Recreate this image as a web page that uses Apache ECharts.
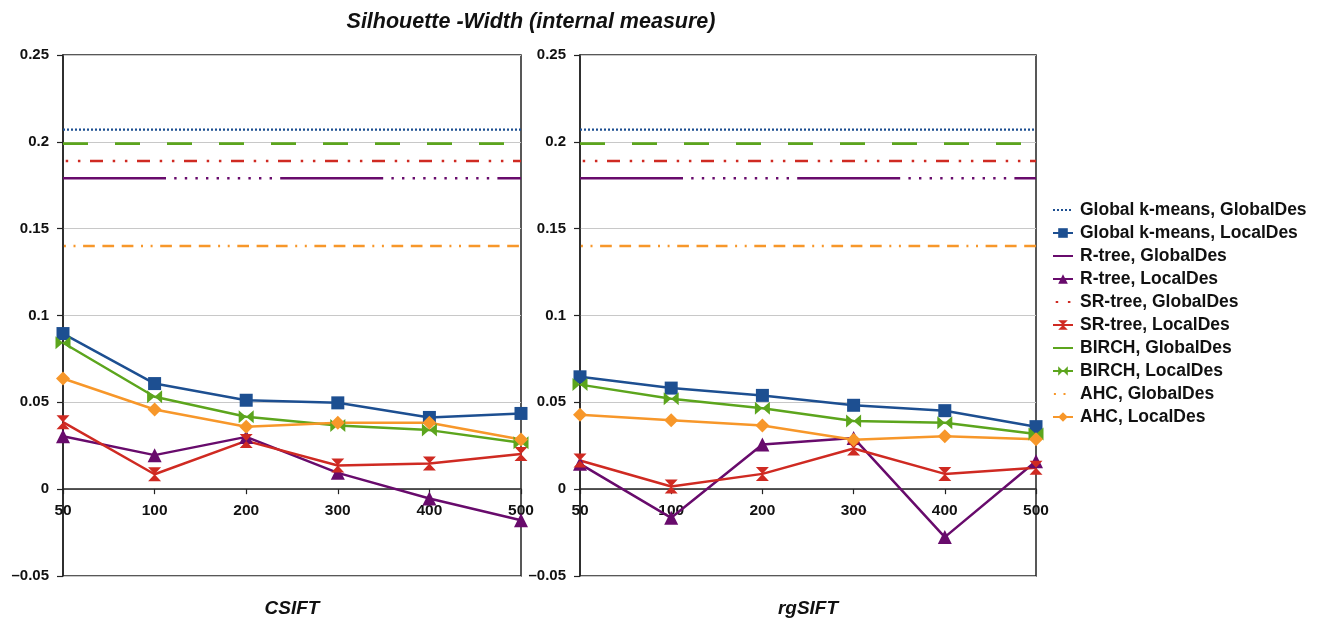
<!DOCTYPE html>
<html><head><meta charset="utf-8">
<script src="https://cdn.jsdelivr.net/npm/echarts@6/dist/echarts.min.js"></script>
<style>html,body{margin:0;padding:0;background:#fff}#c{width:1320px;height:621px}</style>
</head><body><div id="c"></div><script>
// ---------- data ----------
const categories = ['50', '100', '200', '300', '400', '500'];
const seriesNames = [
  'Global k-means, GlobalDes', 'Global k-means, LocalDes',
  'R-tree, GlobalDes', 'R-tree, LocalDes',
  'SR-tree, GlobalDes', 'SR-tree, LocalDes',
  'BIRCH, GlobalDes', 'BIRCH, LocalDes',
  'AHC, GlobalDes', 'AHC, LocalDes'
];
const panelNames = ['CSIFT', 'rgSIFT'];
const yMin = -0.05, yMax = 0.25, yStep = 0.05;

// CSIFT
const csiftKmeansGlobal = [0.207, 0.207, 0.207, 0.207, 0.207, 0.207];
const csiftKmeansLocal  = [0.0896, 0.0608, 0.0512, 0.0497, 0.0413, 0.0436];
const csiftRtreeGlobal  = [0.179, 0.179, 0.179, 0.179, 0.179, 0.179];
const csiftRtreeLocal   = [0.0305, 0.0196, 0.0301, 0.0094, -0.0054, -0.0179];
const csiftSrtreeGlobal = [0.189, 0.189, 0.189, 0.189, 0.189, 0.189];
const csiftSrtreeLocal  = [0.0386, 0.0086, 0.0278, 0.0136, 0.0148, 0.0202];
const csiftBirchGlobal  = [0.199, 0.199, 0.199, 0.199, 0.199, 0.199];
const csiftBirchLocal   = [0.0843, 0.0532, 0.0417, 0.0367, 0.0340, 0.0267];
const csiftAhcGlobal    = [0.140, 0.140, 0.140, 0.140, 0.140, 0.140];
const csiftAhcLocal     = [0.0637, 0.0459, 0.0359, 0.0382, 0.0382, 0.0286];

// rgSIFT
const rgKmeansGlobal = [0.207, 0.207, 0.207, 0.207, 0.207, 0.207];
const rgKmeansLocal  = [0.0647, 0.0582, 0.0540, 0.0483, 0.0452, 0.0360];
const rgRtreeGlobal  = [0.179, 0.179, 0.179, 0.179, 0.179, 0.179];
const rgRtreeLocal   = [0.0146, -0.0165, 0.0257, 0.0295, -0.0276, 0.0161];
const rgSrtreeGlobal = [0.189, 0.189, 0.189, 0.189, 0.189, 0.189];
const rgSrtreeLocal  = [0.0165, 0.0015, 0.0088, 0.0234, 0.0088, 0.0123];
const rgBirchGlobal  = [0.199, 0.199, 0.199, 0.199, 0.199, 0.199];
const rgBirchLocal   = [0.0602, 0.0521, 0.0466, 0.0393, 0.0383, 0.0318];
const rgAhcGlobal    = [0.140, 0.140, 0.140, 0.140, 0.140, 0.140];
const rgAhcLocal     = [0.0429, 0.0397, 0.0366, 0.0284, 0.0305, 0.0287];

const panelData = [
  [csiftKmeansGlobal, csiftKmeansLocal, csiftRtreeGlobal, csiftRtreeLocal, csiftSrtreeGlobal,
   csiftSrtreeLocal, csiftBirchGlobal, csiftBirchLocal, csiftAhcGlobal, csiftAhcLocal],
  [rgKmeansGlobal, rgKmeansLocal, rgRtreeGlobal, rgRtreeLocal, rgSrtreeGlobal,
   rgSrtreeLocal, rgBirchGlobal, rgBirchLocal, rgAhcGlobal, rgAhcLocal]
];

// ---------- styles ----------
const FONT = 'Liberation Sans, Arial, sans-serif';
const BLUE = '#1d4f91', PURPLE = '#680b6c', RED = '#cf2a22', GREEN = '#5ca51d', ORANGE = '#f7972a';
const dotSeq = [];
for (let i = 0; i < 10; i++) { dotSeq.push(8.2, 2.4); }
const styles = [
  { color: BLUE,   dash: [2, 2], offset: 0, width: 2.2 },
  { color: BLUE,   symbol: 'rect', size: 13 },
  { color: PURPLE, dash: [103].concat(dotSeq, [8.2]), offset: 0, width: 2.6 },
  { color: PURPLE, symbol: 'triangle', size: 14 },
  { color: RED,    dash: [13, 9.7, 2.5, 9.7, 2.5, 9.6], offset: 20, width: 2.6 },
  { color: RED,    symbol: 'path://M0,0L10,0L5,5ZM5,5L10,10L0,10Z', size: [13, 14] },
  { color: GREEN,  dash: [25, 27], offset: 0, width: 2.8 },
  { color: GREEN,  symbol: 'path://M0,0L5,5L0,10ZM10,0L10,10L5,5Z', size: [15, 13] },
  { color: ORANGE, dash: [11.7, 7.6, 11.7, 7.6, 11.7, 7.6, 2, 7.6, 2, 7.6], offset: 57, width: 2.6 },
  { color: ORANGE, symbol: 'diamond', size: 14 }
];

const grids = [
  { left: 63, top: 55, width: 458, height: 521 },
  { left: 580, top: 55, width: 456, height: 521 }
];

function fmt(v) {
  const r = Math.round(v * 100) / 100;
  if (r < 0) return '\u2013' + String(-r);
  return String(r);
}

const option = {
  backgroundColor: '#ffffff',
  animation: false,
  title: {
    text: 'Silhouette -Width (internal measure)',
    left: 531, top: 11, textAlign: 'center', padding: 0,
    textStyle: { fontFamily: FONT, fontWeight: 'bold', fontStyle: 'italic', fontSize: 21.5, color: '#111' }
  },
  legend: {
    orient: 'vertical', left: 1052, top: 201, padding: 0,
    itemWidth: 20, itemHeight: 12, itemGap: 5,
    data: seriesNames.map((n, k) => styles[k].dash ? { name: n, itemStyle: { opacity: 0 } } : { name: n }),
    textStyle: { fontFamily: FONT, fontWeight: 'bold', fontSize: 17.5, color: '#111', padding: [0, 0, 0, 2] }
  },
  grid: grids.map(g => Object.assign({ show: true, borderColor: '#222', borderWidth: 1.5, backgroundColor: 'transparent', containLabel: false, outerBoundsMode: 'none' }, g)),
  xAxis: panelNames.map((n, i) => ({
    type: 'category', gridIndex: i, data: categories, boundaryGap: false, position: 'bottom',
    // place the category axis on the y = 0 line
    offset: -grids[i].height * (0 - yMin) / (yMax - yMin),
    axisLine: { onZero: false, lineStyle: { color: '#222', width: 1.5 } },
    axisTick: { show: true, interval: 0, length: 5, lineStyle: { color: '#222', width: 1.2 } },
    axisLabel: { interval: 0, margin: 14, fontFamily: FONT, fontWeight: 'bold', fontSize: 15.5, color: '#111' },
    splitLine: { show: false },
    name: n, nameLocation: 'middle', nameGap: 110,
    nameTextStyle: { fontFamily: FONT, fontWeight: 'bold', fontStyle: 'italic', fontSize: 19, color: '#111' }
  })),
  yAxis: panelNames.map((n, i) => ({
    type: 'value', gridIndex: i, min: yMin, max: yMax, interval: yStep,
    axisLine: { show: true, lineStyle: { color: '#222', width: 1.5 } },
    axisTick: { show: true, length: 6, lineStyle: { color: '#222', width: 1.2 } },
    axisLabel: { margin: 14, formatter: fmt, fontFamily: FONT, fontWeight: 'bold', fontSize: 15, color: '#111' },
    splitLine: { show: true, lineStyle: { color: '#c8c8c8', width: 1 } }
  })),
  series: []
};

panelData.forEach((arrs, p) => {
  arrs.forEach((arr, k) => {
    const st = styles[k];
    const s = {
      name: seriesNames[k], type: 'line', xAxisIndex: p, yAxisIndex: p,
      data: arr, color: st.color, silent: true
    };
    if (st.dash) {
      s.symbol = 'none'; s.showSymbol = false;
      s.lineStyle = { color: st.color, width: st.width, type: st.dash, dashOffset: st.offset, cap: 'butt' };
      s.z = 2;
    } else {
      s.symbol = st.symbol; s.symbolSize = st.size; s.showSymbol = true;
      s.itemStyle = { color: st.color };
      s.lineStyle = { color: st.color, width: 2.5 };
      s.z = 3;
    }
    option.series.push(s);
  });
});

const chart = echarts.init(document.getElementById('c'), null, { renderer: 'canvas' });
chart.setOption(option);
</script></body></html>
